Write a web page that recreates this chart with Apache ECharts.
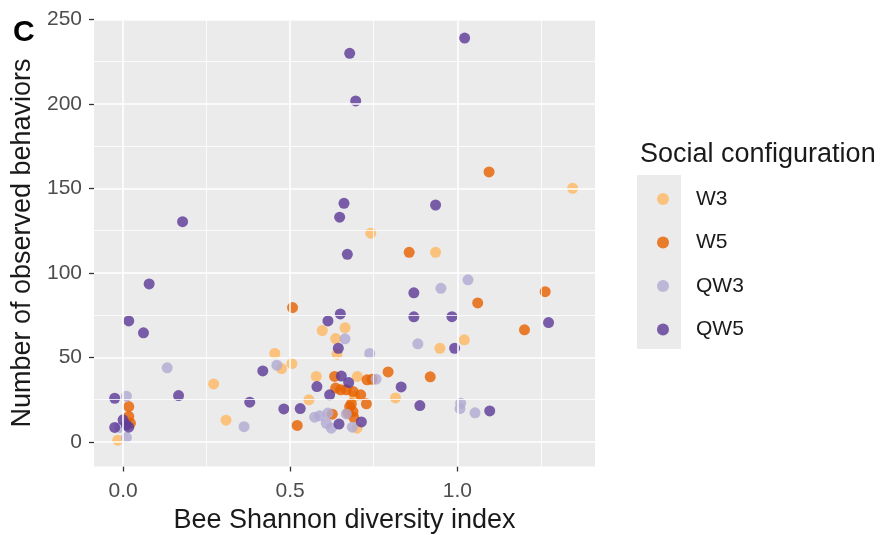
<!DOCTYPE html>
<html>
<head>
<meta charset="utf-8">
<script src="https://cdn.jsdelivr.net/npm/echarts@6/dist/echarts.min.js"></script>
<style>
  html, body { margin: 0; padding: 0; background: #ffffff; }
  #chart { width: 883px; height: 535px; }
</style>
</head>
<body>
<div id="chart"></div>
<script>
// Social configurations shown in the legend, in legend order
const groups = ['W3', 'W5', 'QW3', 'QW5'];
const groupColors = ['#fdb863', '#e66101', '#b2abd2', '#5e3c99'];

// Each point: [Bee Shannon diversity index, number of observed behaviors]
const w3Points = [
  [-0.016, 1], [0.271, 34.3], [0.308, 12.8], [0.454, 52.3], [0.474, 43.4],
  [0.505, 46.3], [0.556, 24.9], [0.578, 38.7], [0.596, 65.9], [0.664, 67.6],
  [0.636, 61.1], [0.640, 51.9], [0.693, 27.0], [0.701, 38.7], [0.700, 8.1],
  [0.741, 123.5], [0.815, 26], [0.935, 112.2], [0.948, 55.4], [1.021, 60.4],
  [1.345, 150.1]
];
const w5Points = [
  [0.017, 20.9], [0.017, 15], [0.022, 11], [0.507, 79.5], [0.521, 9.7],
  [0.633, 38.7], [0.636, 31.8], [0.651, 30.8], [0.668, 30.8], [0.688, 29.8],
  [0.711, 27.8], [0.728, 22.5], [0.678, 20.9], [0.688, 17.9], [0.673, 17],
  [0.683, 22.5], [0.690, 14.5], [0.626, 16.4], [0.730, 36.7], [0.745, 37],
  [0.793, 41.4], [0.856, 112.2], [0.919, 38.5], [1.061, 82.2], [1.095, 159.8],
  [1.201, 66.3], [1.263, 88.9]
];
const qw3Points = [
  [0.010, 27], [-0.010, 8.5], [0.010, 2.5], [0.132, 43.8], [0.362, 9],
  [0.460, 45.4], [0.573, 14.6], [0.588, 15.4], [0.608, 11], [0.613, 17],
  [0.623, 8.1], [0.668, 16.5], [0.686, 8.7], [0.664, 61], [0.738, 52.3],
  [0.757, 37.1], [0.882, 58], [0.951, 90.9], [1.032, 95.9], [1.010, 22.9],
  [1.008, 19.7], [1.053, 17.2]
];
const qw5Points = [
  [-0.025, 25.8], [0.0, 13], [0.010, 10], [-0.025, 8.5], [0.017, 8.7],
  [0.017, 71.6], [0.061, 64.5], [0.078, 93.5], [0.166, 27.4], [0.178, 130.3],
  [0.379, 23.5], [0.418, 42], [0.481, 19.5], [0.530, 19.7], [0.580, 32.7],
  [0.613, 71.6], [0.618, 27.8], [0.644, 55.4], [0.646, 10.5], [0.650, 75.7],
  [0.648, 133], [0.653, 38.9], [0.661, 141.2], [0.671, 111], [0.675, 35.1],
  [0.678, 230], [0.696, 201.8], [0.713, 11.8], [0.832, 32.5], [0.870, 88.2],
  [0.870, 74], [0.888, 21.5], [0.935, 140.2], [0.984, 74.1], [0.992, 55.4],
  [1.022, 239], [1.097, 18.3], [1.273, 70.6]
];
const groupPoints = [w3Points, w5Points, qw3Points, qw5Points];

// Axis ticks and grid lines
const xTicks = [0, 0.5, 1.0];
const xMinorGrid = [0.25, 0.75, 1.25];
const yTicks = [0, 50, 100, 150, 200, 250];
const yMinorGrid = [25, 75, 125, 175, 225];
const xRange = [-0.087, 1.412];
const yRange = [-14.6, 250];

const FONT = '"Liberation Sans", Arial, Helvetica, sans-serif';

function gridLines(values, axisKey, width) {
  return values.map(v => ({
    [axisKey]: v,
    lineStyle: { color: '#ffffff', width: width, type: 'solid' }
  }));
}

const chart = echarts.init(document.getElementById('chart'), null, { renderer: 'canvas' });

const scatterSeries = groups.map((g, i) => ({
  name: g,
  type: 'scatter',
  z: 3,
  data: groupPoints[i],
  symbol: 'circle',
  symbolSize: 11,
  itemStyle: { color: groupColors[i], opacity: 0.82 },
  emphasis: { disabled: true },
  animation: false
}));

const option = {
  backgroundColor: '#ffffff',
  animation: false,
  title: [
    {
      text: 'C', left: 8, top: 13,
      textStyle: { fontFamily: FONT, fontSize: 30, fontWeight: 'bold', color: '#000000' }
    },
    {
      text: 'Social configuration', left: 635, top: 136,
      textStyle: { fontFamily: FONT, fontSize: 27, fontWeight: 'normal', color: '#1a1a1a' }
    }
  ],
  graphic: [
    {
      type: 'rect', left: 637, top: 175, z: -1,
      shape: { width: 44, height: 174 },
      style: { fill: '#ebebeb' }
    }
  ],
  legend: {
    orient: 'vertical',
    left: 652, top: 182,
    data: groups,
    icon: 'circle',
    itemWidth: 12, itemHeight: 12,
    itemGap: 19.5,
    selectedMode: false,
    textStyle: {
      fontFamily: FONT, fontSize: 21, color: '#1a1a1a',
      lineHeight: 24, padding: [0, 0, 0, 22]
    }
  },
  grid: {
    left: 94, top: 19.5, width: 501, height: 447,
    show: true, backgroundColor: '#ebebeb', borderWidth: 0,
    containLabel: false, outerBoundsMode: 'none'
  },
  xAxis: {
    type: 'value',
    min: xRange[0], max: xRange[1],
    name: 'Bee Shannon diversity index',
    nameLocation: 'middle', nameGap: 41,
    nameTextStyle: { fontFamily: FONT, fontSize: 27, color: '#1a1a1a' },
    axisLine: { show: false, onZero: false },
    axisTick: {
      show: true, length: 5, customValues: xTicks,
      lineStyle: { color: '#333333', width: 1.3 }
    },
    axisLabel: {
      customValues: xTicks, margin: 14,
      fontFamily: FONT, fontSize: 21, color: '#4d4d4d',
      formatter: v => v.toFixed(1)
    },
    splitLine: { show: false }
  },
  yAxis: {
    type: 'value',
    min: yRange[0], max: yRange[1],
    name: 'Number of observed behaviors',
    nameLocation: 'middle', nameGap: 50,
    nameTextStyle: { fontFamily: FONT, fontSize: 27, color: '#1a1a1a' },
    axisLine: { show: false, onZero: false },
    axisTick: {
      show: true, length: 5, customValues: yTicks,
      lineStyle: { color: '#333333', width: 1.3 }
    },
    axisLabel: {
      customValues: yTicks, margin: 12,
      fontFamily: FONT, fontSize: 21, color: '#4d4d4d'
    },
    splitLine: { show: false }
  },
  series: [
    {
      // panel grid lines, drawn beneath the points
      type: 'scatter',
      z: 1,
      data: [],
      silent: true,
      markLine: {
        silent: true,
        symbol: ['none', 'none'],
        label: { show: false },
        animation: false,
        data: []
          .concat(gridLines(xMinorGrid, 'xAxis', 0.8))
          .concat(gridLines(yMinorGrid, 'yAxis', 0.8))
          .concat(gridLines(xTicks, 'xAxis', 1.6))
          .concat(gridLines(yTicks, 'yAxis', 1.6))
      }
    }
  ].concat(scatterSeries)
};

chart.setOption(option);
</script>
</body>
</html>
